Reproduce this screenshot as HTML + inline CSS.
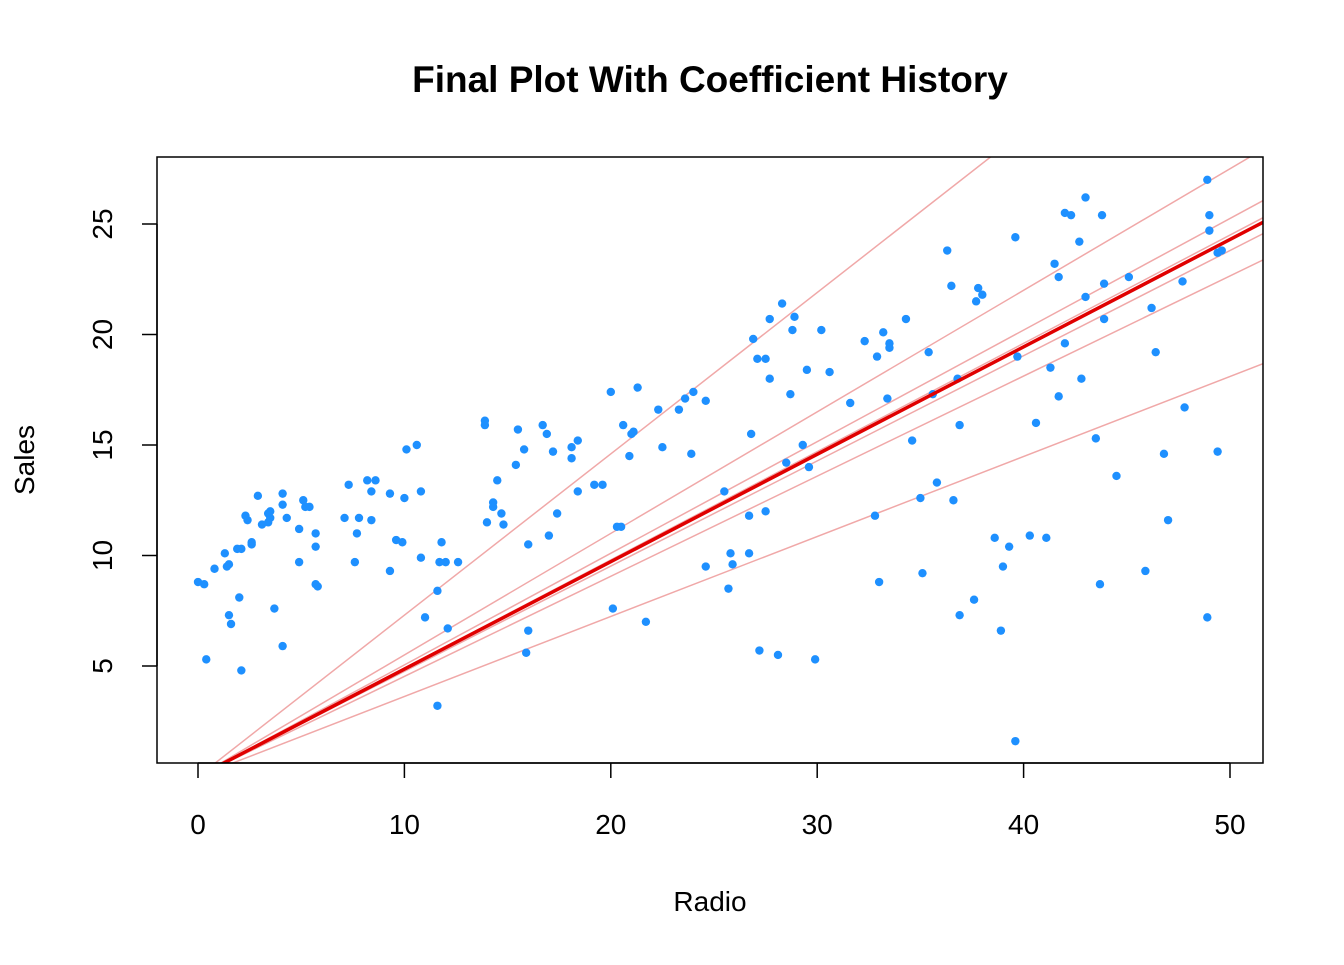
<!DOCTYPE html>
<html><head><meta charset="utf-8"><style>
body{margin:0;background:#fff;}
svg text{font-family:"Liberation Sans",Arial,sans-serif;}
</style></head><body>
<svg width="1344" height="960" xmlns="http://www.w3.org/2000/svg">
<defs><clipPath id="pc"><rect x="157" y="157" width="1106" height="606"/></clipPath></defs>
<rect width="1344" height="960" fill="#fff"/>
<text x="710" y="92" text-anchor="middle" font-size="37" font-weight="bold">Final Plot With Coefficient History</text>
<g id="hist" clip-path="url(#pc)"></g>
<g id="pts" clip-path="url(#pc)"></g>
<g id="fin" clip-path="url(#pc)"></g>
<g id="axes"></g>
<rect x="157" y="157" width="1106" height="606" fill="none" stroke="#000" stroke-width="1.5"/>
<text x="710" y="911" text-anchor="middle" font-size="28">Radio</text>
<text transform="translate(34,460) rotate(-90)" text-anchor="middle" font-size="28">Sales</text>
</svg>
<script>
const radio=[37.8,39.3,45.9,41.3,10.8,48.9,32.8,19.6,2.1,2.6,5.8,24,35.1,7.6,32.9,47.7,36.6,39.6,20.5,23.9,27.7,5.1,15.9,16.9,12.6,3.5,29.3,16.7,27.1,16,28.3,17.4,1.5,20,1.4,4.1,43.8,49.4,26.7,37.7,22.3,33.4,27.7,8.4,25.7,22.5,9.9,41.5,15.8,11.7,3.1,9.6,41.7,46.2,28.8,49.4,28.1,19.2,49.6,29.5,2,42.7,15.5,29.6,42.8,9.3,24.6,14.5,27.5,43.9,30.6,14.3,33,5.7,24.6,43.7,1.6,28.5,29.9,7.7,26.7,4.1,20.3,44.5,43,18.4,27.5,40.6,25.5,47.8,4.9,1.5,33.5,36.5,14,31.6,3.5,21,42.3,41.7,4.3,36.3,10.1,17.2,34.3,46.4,11,0.3,0.4,26.9,8.2,38,15.4,20.6,46.8,35,14.3,0.8,36.9,16,26.8,21.7,2.4,34.6,32.3,11.8,38.9,0,49,12,39.6,2.9,27.2,33.5,38.6,47,39,28.9,25.9,43.9,17,35.4,33.2,5.7,14.8,1.9,7.3,49,40.3,25.8,13.9,8.4,23.3,39.7,21.1,11.6,43.5,1.3,36.9,18.4,18.1,35.8,18.1,36.8,14.7,3.4,37.6,5.2,23.6,10.6,11.6,20.9,20.1,7.1,3.4,48.9,30.2,7.8,2.3,10,2.6,5.4,5.7,43,21.3,45.1,2.1,28.7,13.9,12.1,41.1,10.8,4.1,42,35.6,3.7,4.9,9.3,42,8.6];
const sales=[22.1,10.4,9.3,18.5,12.9,7.2,11.8,13.2,4.8,10.6,8.6,17.4,9.2,9.7,19,22.4,12.5,24.4,11.3,14.6,18,12.5,5.6,15.5,9.7,12,15,15.9,18.9,10.5,21.4,11.9,9.6,17.4,9.5,12.8,25.4,14.7,10.1,21.5,16.6,17.1,20.7,12.9,8.5,14.9,10.6,23.2,14.8,9.7,11.4,10.7,22.6,21.2,20.2,23.7,5.5,13.2,23.8,18.4,8.1,24.2,15.7,14,18,9.3,9.5,13.4,18.9,22.3,18.3,12.4,8.8,11,17,8.7,6.9,14.2,5.3,11,11.8,12.3,11.3,13.6,21.7,15.2,12,16,12.9,16.7,11.2,7.3,19.4,22.2,11.5,16.9,11.7,15.5,25.4,17.2,11.7,23.8,14.8,14.7,20.7,19.2,7.2,8.7,5.3,19.8,13.4,21.8,14.1,15.9,14.6,12.6,12.2,9.4,15.9,6.6,15.5,7,11.6,15.2,19.7,10.6,6.6,8.8,24.7,9.7,1.6,12.7,5.7,19.6,10.8,11.6,9.5,20.8,9.6,20.7,10.9,19.2,20.1,10.4,11.4,10.3,13.2,25.4,10.9,10.1,16.1,11.6,16.6,19,15.6,3.2,15.3,10.1,7.3,12.9,14.4,13.3,14.9,18,11.9,11.9,8,12.2,17.1,15,8.4,14.5,7.6,11.7,11.5,27,20.2,11.7,11.8,12.6,10.5,12.2,8.7,26.2,17.6,22.6,10.3,17.3,15.9,6.7,10.8,9.9,5.9,19.6,17.3,7.6,9.7,12.8,25.5,13.4];
const histSlope=[0.73,0.55,0.505,0.49,0.476,0.453,0.362];
const histIntercept=[0,0,0,0,0,0,0];
const finalSlope=0.486, finalIntercept=0;
const xTicks=[0,10,20,30,40,50];
const yTicks=[5,10,15,20,25];
const NS="http://www.w3.org/2000/svg";
const X=v=>198+v*20.64, Y=v=>666-(v-5)*22.1;
function mk(t,a,p){const e=document.createElementNS(NS,t);for(const k in a)e.setAttribute(k,a[k]);p.appendChild(e);return e;}
const hist=document.getElementById('hist');
histSlope.forEach((b,i)=>{const a=histIntercept[i];
const l=mk('line',{x1:X(-2),y1:Y(a+b*-2),x2:X(55),y2:Y(a+b*55),stroke:'#f0a8a8','stroke-width':1.5},hist);

});
const pts=document.getElementById('pts');
radio.forEach((r,i)=>{const c=mk('circle',{cx:X(r),cy:Y(sales[i]),r:4.2,fill:'#1E90FF'},pts);

});
const fin=document.getElementById('fin');
const fl=mk('line',{x1:X(-2),y1:Y(finalIntercept-2*finalSlope),x2:X(55),y2:Y(finalIntercept+55*finalSlope),stroke:'#e00000','stroke-width':3.5},fin);


const ax=document.getElementById('axes');
mk('line',{x1:X(0),y1:763,x2:X(50),y2:763,stroke:'#000','stroke-width':1.5},ax);
xTicks.forEach(v=>{mk('line',{x1:X(v),y1:763,x2:X(v),y2:778,stroke:'#000','stroke-width':1.5},ax);
const t=mk('text',{x:X(v),y:834,'text-anchor':'middle','font-size':28},ax);t.textContent=v;

});
mk('line',{x1:157,y1:Y(5),x2:157,y2:Y(25),stroke:'#000','stroke-width':1.5},ax);
yTicks.forEach(v=>{mk('line',{x1:142,y1:Y(v),x2:157,y2:Y(v),stroke:'#000','stroke-width':1.5},ax);
const t=mk('text',{transform:`translate(112,${Y(v)}) rotate(-90)`,'text-anchor':'middle','font-size':28},ax);t.textContent=v;

});
</script>
</body></html>
